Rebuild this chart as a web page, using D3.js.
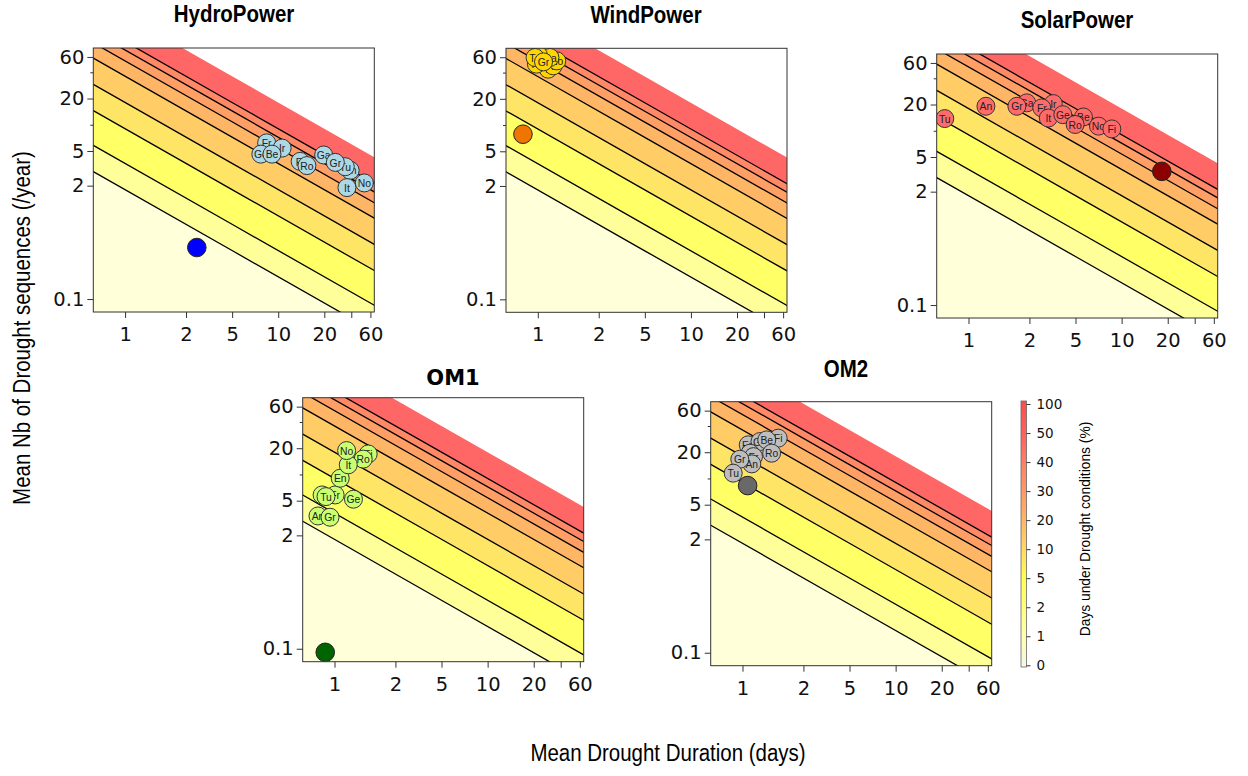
<!DOCTYPE html>
<html>
<head>
<meta charset="utf-8">
<script src="https://cdn.jsdelivr.net/npm/d3@7"></script>
<style>
  body { margin: 0; background: #fff; }
  svg { display: block; }
</style>
</head>
<body>
<svg id="chart" width="1248" height="776"></svg>
<script>
// contour levels (% of days under drought) and their colours
var levels = [0, 1, 2, 5, 10, 20, 30, 40, 50, 100];
var bandColors = ["#ffffd9", "#ffff99", "#ffff66", "#ffe566", "#ffcc66", "#ffb566", "#ff9f66", "#ff8866", "#ff6666"];
var barColors = ["#f6f6e4", "#ffffb0", "#ffff80", "#ffff50", "#ffd966", "#ffb566", "#ff9966", "#ff7f66", "#ff6060", "#ff4d4d"];
var seasonDays = 180; // pct = 100 * duration * frequency / seasonDays

var xTickValues = [1, 2.5, 5, 10, 20, 30, 40];
var xTickLabels = ["1", "2", "5", "10", "20", "", "60"];
var yTickValues = [0.1, 2, 5, 10, 20, 40, 60];
var yTickLabels = ["0.1", "2", "5", "", "20", "", "60"];
var xDomain = [0.62, 42.4];
var yDomain = [0.071, 76];

// country points, drawn in this order (later ones cover earlier labels)
var hydroCountries = ["Fr", "Ir", "Ge", "Be", "Fi", "Ro", "An", "Ga", "Tu", "Gr", "It", "No"];
var hydroDuration  = [8.4, 10.6, 7.7, 9.1, 13.9, 15.4, 29.5, 19.8, 27.4, 23.6, 28.1, 36.5];
var hydroFrequency = [6.2, 5.4, 4.6, 4.6, 3.8, 3.4, 3.0, 4.5, 3.3, 3.7, 1.9, 2.15];
var hydroMean = [2.94, 0.39];

var windCountries = ["It", "Ro", "No", "Fr", "Ga", "An", "Tu", "Gr"];
var windDuration  = [1.17, 1.26, 1.33, 0.98, 1.20, 1.01, 0.96, 1.09];
var windFrequency = [43.8, 47.8, 54.5, 50.0, 59.6, 63.4, 59.6, 53.1];
var windMean = [0.80, 7.85];

var solarCountries = ["Tu", "An", "Ga", "Gr", "Ir", "Fr", "It", "Ge", "Be", "Ro", "No", "Fi"];
var solarDuration  = [0.70, 1.30, 2.40, 2.07, 3.58, 3.01, 3.32, 4.13, 5.63, 4.97, 7.06, 8.63];
var solarFrequency = [13.8, 19.1, 20.9, 19.1, 20.5, 18.3, 14.0, 15.3, 14.4, 11.8, 11.3, 10.5];
var solarMean = [18.3, 3.42];

var om1Countries = ["An", "Gr", "Ir", "Fr", "Tu", "Ge", "En", "Fi", "Ro", "It", "No"];
var om1Duration  = [0.78, 0.935, 0.83, 1.01, 0.88, 1.33, 1.09, 1.66, 1.54, 1.23, 1.20];
var om1Frequency = [3.34, 3.23, 5.82, 5.82, 5.57, 5.2, 9.05, 17.2, 15.0, 12.9, 18.8];
var om1Mean = [0.87, 0.091];

var om2Countries = ["En", "Ga", "Fi", "Be", "Ir", "Fr", "An", "Gr", "Tu", "Ro"];
var om2Duration  = [1.09, 1.30, 1.71, 1.44, 1.12, 1.18, 1.15, 0.96, 0.87, 1.55];
var om2Frequency = [24.3, 26.5, 29.0, 27.7, 19.5, 17.8, 14.7, 16.6, 11.5, 19.5];
var om2Mean = [1.08, 8.28];

var panels = [
  { title: "HydroPower", names: hydroCountries, dur: hydroDuration, freq: hydroFrequency, mean: hydroMean,
    left: 93.3, top: 48, titleX: 234, titleY: 22, fill: "#add8e6", meanFill: "#0000ff" },
  { title: "WindPower", names: windCountries, dur: windDuration, freq: windFrequency, mean: windMean,
    left: 506, top: 48.3, titleX: 646, titleY: 23, fill: "#ffd700", meanFill: "#ee7600" },
  { title: "SolarPower", names: solarCountries, dur: solarDuration, freq: solarFrequency, mean: solarMean,
    left: 936.7, top: 54, titleX: 1077, titleY: 28, fill: "#ff6a6a", meanFill: "#8b0000" },
  { title: "OM1", names: om1Countries, dur: om1Duration, freq: om1Frequency, mean: om1Mean,
    left: 302.7, top: 397.7, titleX: 453, titleY: 385, fill: "#caff70", meanFill: "#006400" },
  { title: "OM2", names: om2Countries, dur: om2Duration, freq: om2Frequency, mean: om2Mean,
    left: 710.7, top: 401.7, titleX: 846, titleY: 377, fill: "#bebebe", meanFill: "#696969" }
];

var W = 281, H = 264;
var K = seasonDays / 100;
var svg = d3.select("#chart");
var tickFont = "DejaVu Sans, Verdana, sans-serif";
var sansFont = "Liberation Sans, Arial, sans-serif";

// text squeezed a little sideways, like the original's narrow lettering
function narrowText(x, y, rot, size, str, bold) {
  return svg.append("text")
    .attr("transform", "translate(" + x + "," + y + ") rotate(" + rot + ") scale(0.89,1)")
    .attr("text-anchor", "middle")
    .style("font-family", sansFont).style("font-size", size + "px")
    .style("font-weight", bold ? "bold" : "normal")
    .attr("fill", "#000").text(str);
}

panels.forEach(function(p, pi) {
  var x = d3.scaleLog().domain(xDomain).range([0, W]);
  var y = d3.scaleLog().domain(yDomain).range([H, 0]);
  var g = svg.append("g").attr("transform", "translate(" + p.left + "," + p.top + ")");

  g.append("clipPath").attr("id", "clip" + pi)
    .append("rect").attr("width", W).attr("height", H);

  var line = d3.line().x(function(d) { return x(d[0]); }).y(function(d) { return y(d[1]); });
  var xs = [xDomain[0] / 10, xDomain[0], Math.sqrt(xDomain[0] * xDomain[1]), xDomain[1], xDomain[1] * 10];

  var plot = g.append("g").attr("clip-path", "url(#clip" + pi + ")");
  for (var i = 0; i < levels.length - 1; i++) {
    var lo = levels[i], hi = levels[i + 1];
    var lower = xs.map(function(v) { return [v, lo > 0 ? K * lo / v : yDomain[0] / 100]; });
    var upper = xs.slice().reverse().map(function(v) { return [v, K * hi / v]; });
    plot.append("path").attr("d", line(lower.concat(upper)) + "Z")
      .attr("fill", bandColors[i]).attr("stroke", "none");
  }
  levels.slice(1, levels.length - 1).forEach(function(L) {
    plot.append("path")
      .attr("d", line(xs.map(function(v) { return [v, K * L / v]; })))
      .attr("fill", "none").attr("stroke", "#000").attr("stroke-width", 1.3);
  });

  // country points
  p.names.forEach(function(n, j) {
    var cx = x(p.dur[j]), cy = y(p.freq[j]);
    plot.append("circle").attr("cx", cx).attr("cy", cy).attr("r", 9)
      .attr("fill", p.fill).attr("stroke", "#333").attr("stroke-width", 1);
    plot.append("text")
      .attr("transform", "translate(" + cx + "," + cy + ") scale(0.9,1)")
      .attr("dy", "0.36em").attr("text-anchor", "middle")
      .style("font-family", sansFont).style("font-size", "11.5px")
      .attr("fill", "#222").text(n);
  });
  plot.append("circle").attr("cx", x(p.mean[0])).attr("cy", y(p.mean[1])).attr("r", 9.3)
    .attr("fill", p.meanFill).attr("stroke", "#222").attr("stroke-width", 1);

  g.append("rect").attr("width", W).attr("height", H)
    .attr("fill", "none").attr("stroke", "#333").attr("stroke-width", 1);

  var xAxis = g.append("g").attr("transform", "translate(0," + H + ")")
    .call(d3.axisBottom(x).tickValues(xTickValues)
      .tickFormat(function(d, i) { return xTickLabels[i]; })
      .tickSize(6).tickPadding(9));
  var yAxis = g.append("g")
    .call(d3.axisLeft(y).tickValues(yTickValues)
      .tickFormat(function(d, i) { return yTickLabels[i]; })
      .tickSize(6).tickPadding(3));
  [xAxis, yAxis].forEach(function(a) {
    a.select(".domain").remove();
    a.selectAll("line").attr("stroke", "#333");
    a.selectAll("text").style("font-family", tickFont).style("font-size", "19.5px").attr("fill", "#111");
  });
  yAxis.selectAll(".tick").filter(function(d, i) { return yTickLabels[i] === ""; })
    .select("line").attr("x2", -3);

  if (p.title === "OM1") {
    svg.append("text").attr("x", p.titleX).attr("y", p.titleY)
      .attr("text-anchor", "middle")
      .style("font-family", tickFont).style("font-weight", "bold").style("font-size", "21px")
      .attr("fill", "#000").text(p.title);
  } else {
    narrowText(p.titleX, p.titleY, 0, 23, p.title, true);
  }
});

// colour bar
var barX = 1021, barW = 5.5, barTop = 401, barBottom = 667;
var barScale = d3.scaleLinear().domain([0, levels.length - 1]).range([665.3, 404]);
var grad = svg.append("defs").append("linearGradient").attr("id", "bargrad")
  .attr("x1", 0).attr("y1", 1).attr("x2", 0).attr("y2", 0);
levels.forEach(function(L, i) {
  grad.append("stop")
    .attr("offset", (barBottom - barScale(i)) / (barBottom - barTop))
    .attr("stop-color", barColors[i]);
});
svg.append("rect").attr("x", barX).attr("y", barTop).attr("width", barW)
  .attr("height", barBottom - barTop).attr("fill", "url(#bargrad)")
  .attr("stroke", "#666").attr("stroke-width", 0.8);
var barAxis = svg.append("g").attr("transform", "translate(" + (barX + barW) + ",0)")
  .call(d3.axisRight(barScale).tickValues(d3.range(levels.length))
    .tickFormat(function(i) { return levels[i]; }).tickSize(4).tickPadding(6));
barAxis.select(".domain").remove();
barAxis.selectAll("line").attr("stroke", "#333");
barAxis.selectAll("text").style("font-family", tickFont).style("font-size", "13.5px").attr("fill", "#111");

narrowText(1090, 529, -90, 15.5, "Days under Drought conditions (%)", false);

// axis titles
narrowText(30, 328, -90, 23, "Mean Nb of Drought sequences (/year)", false);
narrowText(668, 761, 0, 23, "Mean Drought Duration (days)", false);
</script>
</body>
</html>
